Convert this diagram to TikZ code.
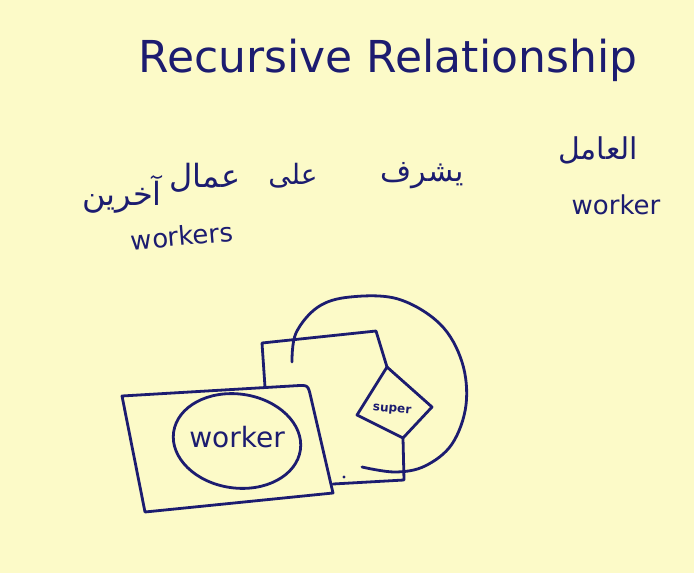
\documentclass[tikz,border=0pt]{standalone}
\usepackage{fontspec}
\usetikzlibrary{calc}
\setmainfont{DejaVu Sans}
\newfontfamily\arabicfont[Script=Arabic]{DejaVu Sans}
\TeXXeTstate=1
\definecolor{paper}{RGB}{252,250,200}
\definecolor{ink}{RGB}{28,28,112}
\begin{document}
\begin{tikzpicture}[x=1pt,y=-1pt,
  pen/.style={draw=ink,line width=2.8pt,line cap=round,line join=round},
  hand/.style={text=ink,inner sep=0pt,anchor=center},
  ar/.style={hand,font=\arabicfont\fontsize{30}{34}\selectfont},
  en/.style={hand,font=\fontsize{26}{30}\selectfont}]
\fill[paper] (0,0) rectangle (694,573);
\useasboundingbox (0,0) rectangle (694,573);
% title
\node[hand,font=\fontsize{44}{50}\selectfont] (title) at (388,60) {Recursive Relationship};
% Arabic sentence, right to left
\node[ar] (w1) at (598,150) {\beginR العامل\endR};
\node[ar] (w2) at (422,176) {\beginR يشرف\endR};
\node[ar,font=\arabicfont\fontsize{28}{32}\selectfont] (w3) at (293,176) {\beginR على\endR};
\node[ar,font=\arabicfont\fontsize{32}{36}\selectfont] (w4a) at (205,178) {\beginR عمال\endR};
\node[ar,font=\arabicfont\fontsize{32}{36}\selectfont] (w4b) at (122,194) {\beginR آخرين\endR};
\node[en] (e1) at (616,205) {worker};
\node[en,rotate=5] (e2) at (182,236) {workers};
% back rectangle (partly hidden)
\coordinate (bA) at (265,387);
\coordinate (bB) at (262,343);
\coordinate (bC) at (376,331);
\coordinate (dT) at (387,367);
\coordinate (dR) at (432,407);
\coordinate (dB) at (403,438);
\coordinate (dL) at (357,415);
\coordinate (bD) at (404,480);
\coordinate (bE) at (333,484);
\draw[pen] (bA) -- (bB) -- (bC) -- (dT);
\draw[pen] (dB) -- (bD) -- (bE);
% diamond
\draw[pen] (dT) -- (dR) -- (dB) -- (dL) -- cycle;
\node[hand,font=\fontsize{12}{13}\selectfont\bfseries,rotate=-5] (super) at (392,410) {super};
% front rectangle, only its top-right corner rounded
\coordinate (fA) at (122,396);
\coordinate (fB) at (308,385);
\coordinate (fC) at (333,493);
\coordinate (fD) at (145,512);
\draw[pen] (fA) -- ($(fB)!12pt!(fA)$) .. controls (fB) .. ($(fB)!12pt!(fC)$) -- (fC) -- (fD) -- cycle;
% entity ellipse
\draw[pen,rotate around={-8:(237,441)}] (237,441) ellipse [x radius=64, y radius=47];
\node[hand,font=\fontsize{28}{30}\selectfont] (worker) at (237,437) {worker};
% recursive loop
\draw[pen] plot[smooth,tension=0.6] coordinates{(292,362) (296,333) (318,307) (350,297) (398,299) (440,324) (462,362) (466,405) (452,444) (425,466) (395,472) (362,467)};
% dot
\fill[ink] (344,477) circle (1.6);
\end{tikzpicture}
\end{document}
